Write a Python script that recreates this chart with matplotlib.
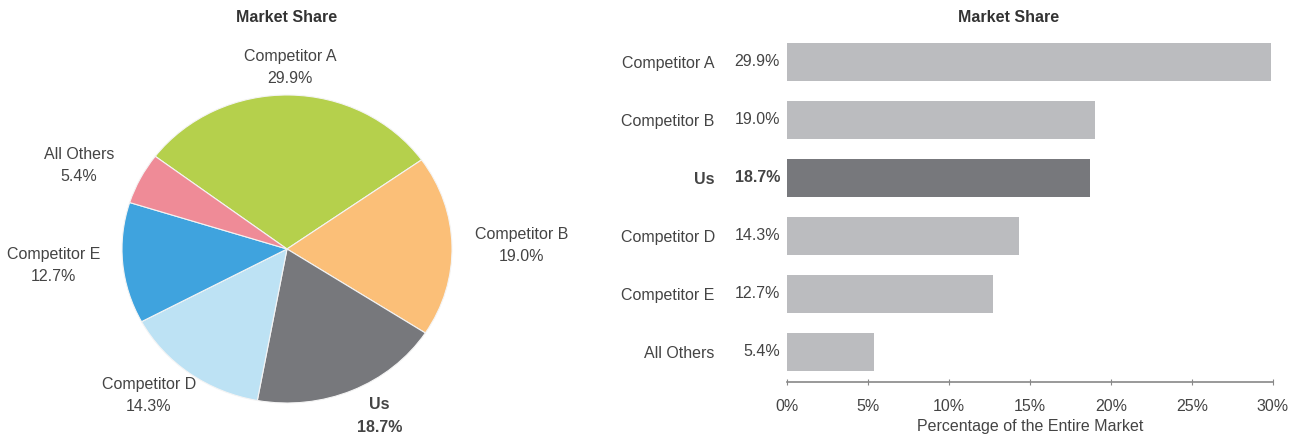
import matplotlib
matplotlib.use("Agg")
import matplotlib.pyplot as plt
import numpy as np

categories = ["Competitor A", "Competitor B", "Us", "Competitor D", "Competitor E", "All Others"]
shares = [29.9, 19.0, 18.7, 14.3, 12.7, 5.4]
pie_colors = ["#b5d04c", "#fbbf78", "#77787c", "#bde2f4", "#3fa3de", "#ef8b97"]
bar_colors = ["#bbbcbf", "#bbbcbf", "#77787c", "#bbbcbf", "#bbbcbf", "#bbbcbf"]
highlight = "Us"
x_ticks = [0, 5, 10, 15, 20, 25, 30]

plt.rcParams['font.family'] = ['Liberation Sans', 'DejaVu Sans']
text_color = "#444444"
fs = 11.5

fig = plt.figure(figsize=(13.04, 4.43), dpi=100)
W, H = 1304, 443

# Pie chart (slightly wider than tall, like the reference)
cx, cy, rx, ry = 287, 249, 165, 154
ax_pie = fig.add_axes([0, 0, 574 / W, (H - 30) / H])
wedges, _ = ax_pie.pie(shares, colors=pie_colors, startangle=143, counterclock=False,
                       wedgeprops=dict(edgecolor="#f4f4f4", linewidth=0.8))
ax_pie.set_aspect('auto')
ax_pie.set_xlim(-cx / rx, (574 - cx) / rx)
ax_pie.set_ylim(-(H - cy) / ry, (H - 30 - (H - cy)) / ry)

# labels sit on a wider ring outside the pie
for w, name, val in zip(wedges, categories, shares):
    mid = np.deg2rad((w.theta1 + w.theta2) / 2)
    weight = "bold" if name == highlight else "normal"
    ax_pie.text(1.42 * np.cos(mid), 1.18 * np.sin(mid), f"{name}\n{val:.1f}%",
                ha="center", va="center", fontsize=fs, color=text_color,
                fontweight=weight, linespacing=1.6)

fig.text(cx / W, 1 - 18 / H, "Market Share", ha="center", va="center",
         fontsize=fs, fontweight="bold", color="#333333")

# Horizontal bar chart
ax_bar = fig.add_axes([787 / W, (H - 382) / H, 486 / W, 355 / H])
y = np.arange(len(categories))
ax_bar.barh(y, shares, height=0.65, color=bar_colors)
ax_bar.set_ylim(5.52, -0.6)
ax_bar.set_xlim(0, 30)
ax_bar.set_xticks(x_ticks)
ax_bar.set_xticklabels([f"{t}%" for t in x_ticks])
ax_bar.tick_params(axis="x", direction="inout", length=5, color="#888888",
                   labelsize=fs, labelcolor=text_color, pad=10)
ax_bar.set_yticks(y)
ax_bar.set_yticklabels(categories)
ax_bar.tick_params(axis="y", length=0, pad=52, labelsize=fs, labelcolor=text_color)
for lbl in ax_bar.get_yticklabels():
    if lbl.get_text() == highlight:
        lbl.set_fontweight("bold")
for side in ["top", "right", "left"]:
    ax_bar.spines[side].set_visible(False)
ax_bar.spines["bottom"].set_color("#888888")
ax_bar.spines["bottom"].set_linewidth(1.2)

for yi, name, val in zip(y, categories, shares):
    ax_bar.annotate(f"{val:.1f}%", xy=(0, yi), xycoords=("axes fraction", "data"),
                    xytext=(-5, 0), textcoords="offset points", ha="right", va="center",
                    fontsize=fs, color=text_color,
                    fontweight="bold" if name == highlight else "normal")

ax_bar.set_xlabel("Percentage of the Entire Market", fontsize=fs, color=text_color, labelpad=3)
fig.text(1009 / W, 1 - 18 / H, "Market Share", ha="center", va="center",
         fontsize=fs, fontweight="bold", color="#333333")

fig.savefig("out.png", dpi=100)
